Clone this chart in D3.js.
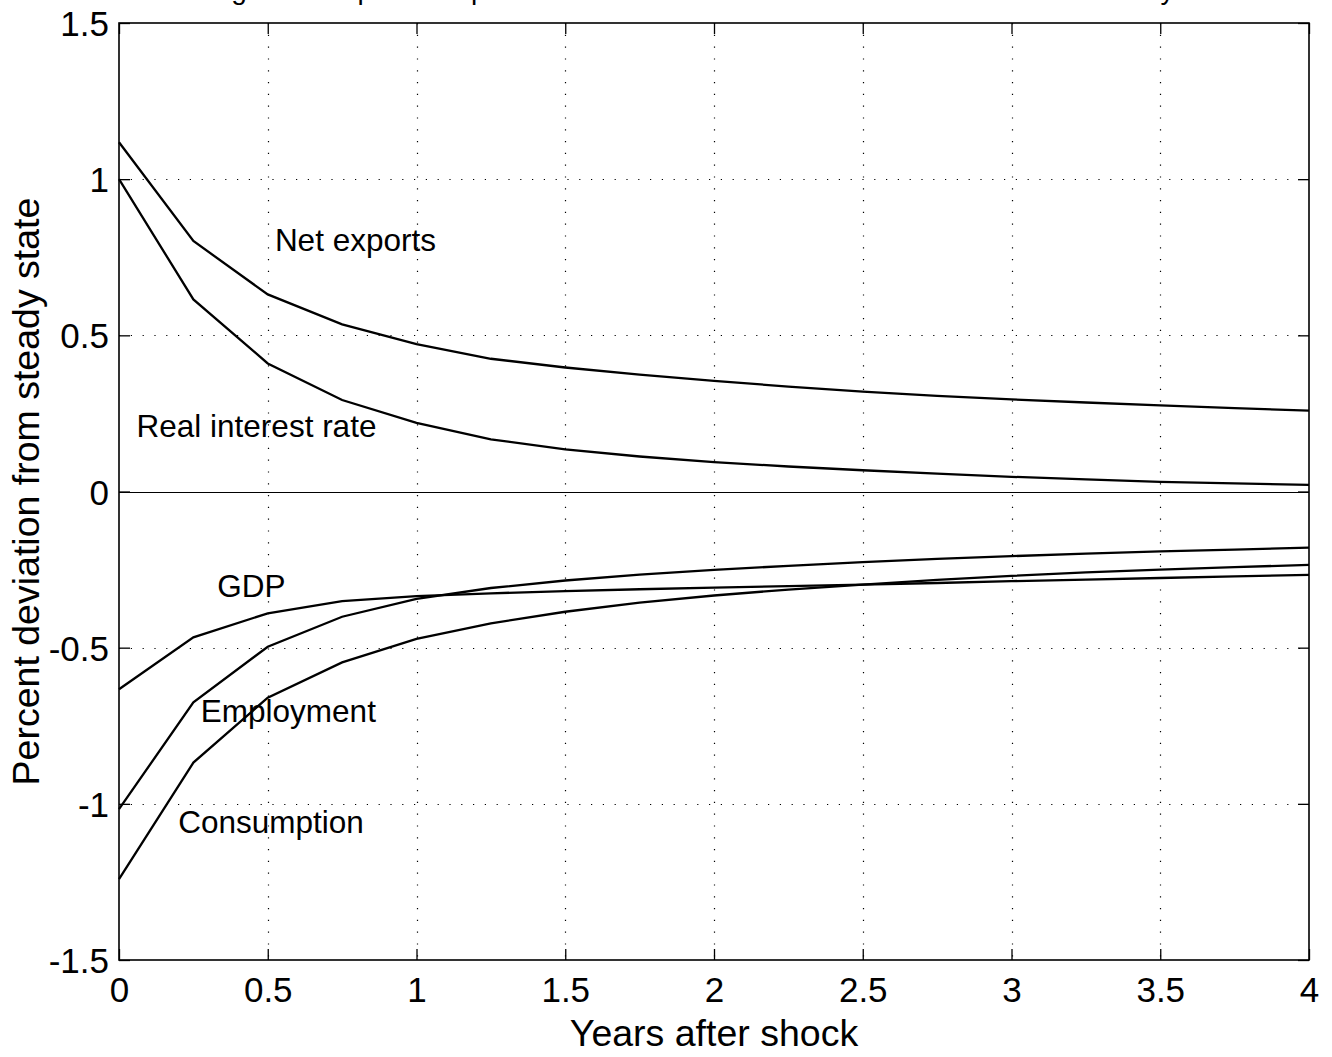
<!DOCTYPE html>
<html>
<head>
<meta charset="utf-8">
<script src="https://cdn.jsdelivr.net/npm/d3@7"></script>
<style>
  html, body { margin: 0; padding: 0; background: #fff; }
  svg { display: block; }
  text { font-family: "Liberation Sans", Arial, Helvetica, sans-serif; fill: #000; }
</style>
</head>
<body>
<svg id="chart" width="1332" height="1057"></svg>
<script>
// ---------------- data ----------------
const years = [0, 0.25, 0.5, 0.75, 1, 1.25, 1.5, 1.75, 2, 2.25, 2.5, 2.75, 3, 3.25, 3.5, 3.75, 4];
const netExports   = [1.118, 0.802, 0.631, 0.535, 0.472, 0.425, 0.397, 0.374, 0.354, 0.336, 0.320, 0.306, 0.295, 0.285, 0.276, 0.267, 0.259];
const realInterest = [1.000, 0.615, 0.410, 0.293, 0.220, 0.167, 0.135, 0.112, 0.094, 0.080, 0.068, 0.057, 0.047, 0.039, 0.031, 0.026, 0.021];
const gdp          = [-0.633, -0.467, -0.390, -0.351, -0.335, -0.326, -0.319, -0.313, -0.308, -0.303, -0.298, -0.293, -0.287, -0.282, -0.277, -0.272, -0.267];
const employment   = [-1.017, -0.675, -0.497, -0.401, -0.344, -0.309, -0.285, -0.266, -0.251, -0.238, -0.226, -0.216, -0.207, -0.199, -0.192, -0.186, -0.180];
const consumption  = [-1.241, -0.868, -0.660, -0.547, -0.472, -0.422, -0.385, -0.356, -0.333, -0.314, -0.298, -0.283, -0.270, -0.259, -0.250, -0.242, -0.235];
const seriesNames  = ["Net exports", "Real interest rate", "GDP", "Employment", "Consumption"];
const xTickValues  = [0, 0.5, 1, 1.5, 2, 2.5, 3, 3.5, 4];
const yTickValues  = [-1.5, -1, -0.5, 0, 0.5, 1, 1.5];
const titleText    = "Figure 1: Impulse responses to a world interest rate shock in a small economy";
const xAxisTitle   = "Years after shock";
const yAxisTitle   = "Percent deviation from steady state";

(function () {
// ---------------- layout ----------------
const svg = d3.select("#chart");
const pLeft = 119, pRight = 1309, pTop = 23, pBottom = 960;
const x = d3.scaleLinear().domain([0, 4]).range([pLeft, pRight]);
const y = d3.scaleLinear().domain([-1.5, 1.5]).range([pBottom, pTop]);
const tickLen = 11;

// grid (dotted)
const grid = svg.append("g");
grid.selectAll("line.vx").data(xTickValues.slice(1, -1)).join("line")
  .attr("x1", d => Math.round(x(d)) + 0.5).attr("x2", d => Math.round(x(d)) + 0.5)
  .attr("y1", pTop).attr("y2", pBottom)
  .attr("stroke", "#000").attr("stroke-width", 1.2).attr("stroke-dasharray", "1.2,10.6");
grid.selectAll("line.hy").data(yTickValues.slice(1, -1)).join("line")
  .attr("y1", d => Math.round(y(d)) + 0.5).attr("y2", d => Math.round(y(d)) + 0.5)
  .attr("x1", pLeft).attr("x2", pRight)
  .attr("stroke", "#000").attr("stroke-width", 1.2).attr("stroke-dasharray", "1.2,10.6");

// zero line
svg.append("line")
  .attr("x1", pLeft).attr("x2", pRight)
  .attr("y1", Math.round(y(0)) + 0.5).attr("y2", Math.round(y(0)) + 0.5)
  .attr("stroke", "#000").attr("stroke-width", 1);

// axes with inward ticks
const fmt = d => String(d);
const bottomAxis = svg.append("g").attr("transform", `translate(0,${pBottom})`)
  .call(d3.axisBottom(x).tickValues(xTickValues).tickFormat(fmt).tickSizeInner(-tickLen).tickSizeOuter(0));
const topAxis = svg.append("g").attr("transform", `translate(0,${pTop})`)
  .call(d3.axisTop(x).tickValues(xTickValues).tickFormat("").tickSizeInner(-tickLen).tickSizeOuter(0));
const leftAxis = svg.append("g").attr("transform", `translate(${pLeft},0)`)
  .call(d3.axisLeft(y).tickValues(yTickValues).tickFormat(fmt).tickSizeInner(-tickLen).tickSizeOuter(0));
const rightAxis = svg.append("g").attr("transform", `translate(${pRight},0)`)
  .call(d3.axisRight(y).tickValues(yTickValues).tickFormat("").tickSizeInner(-tickLen).tickSizeOuter(0));

[bottomAxis, topAxis, leftAxis, rightAxis].forEach(a => {
  a.select(".domain").remove();
  a.selectAll(".tick line").attr("stroke", "#000").attr("stroke-width", 1.3);
});
bottomAxis.selectAll(".tick text")
  .attr("font-size", 35).attr("font-family", "Liberation Sans, Arial, sans-serif").attr("fill", "#000")
  .attr("y", 17).attr("dy", "0.71em");
leftAxis.selectAll(".tick text")
  .attr("font-size", 35).attr("font-family", "Liberation Sans, Arial, sans-serif").attr("fill", "#000")
  .attr("x", -10).attr("dy", "0.36em");

// box
svg.append("rect")
  .attr("x", pLeft).attr("y", pTop).attr("width", pRight - pLeft).attr("height", pBottom - pTop)
  .attr("fill", "none").attr("stroke", "#000").attr("stroke-width", 1.6);

// series
const allSeries = [netExports, realInterest, gdp, employment, consumption];
const line = d3.line().x((d, i) => x(years[i])).y(d => y(d));
svg.append("g").selectAll("path").data(allSeries).join("path")
  .attr("d", d => line(d))
  .attr("fill", "none").attr("stroke", "#000").attr("stroke-width", 2.3)
  .attr("stroke-linejoin", "miter");

// series labels (anchor positions in data units)
const labelAnchors = [[0.524, 0.771], [0.059, 0.175], [0.330, -0.337], [0.275, -0.739], [0.199, -1.092]];
svg.append("g").selectAll("text").data(seriesNames).join("text")
  .attr("x", (d, i) => x(labelAnchors[i][0]))
  .attr("y", (d, i) => y(labelAnchors[i][1]))
  .attr("font-size", 31.5)
  .text(d => d);

// axis titles
svg.append("text")
  .attr("x", (pLeft + pRight) / 2).attr("y", 1046)
  .attr("text-anchor", "middle").attr("font-size", 37.5)
  .text(xAxisTitle);
svg.append("text")
  .attr("transform", `translate(39,${(pTop + pBottom) / 2}) rotate(-90)`)
  .attr("text-anchor", "middle").attr("font-size", 37.5)
  .text(yAxisTitle);

// title (mostly above the visible area, as in the reference)
svg.append("text")
  .attr("x", 208).attr("y", -1)
  .attr("font-size", 28)
  .text(titleText);
})();
</script>
</body>
</html>
